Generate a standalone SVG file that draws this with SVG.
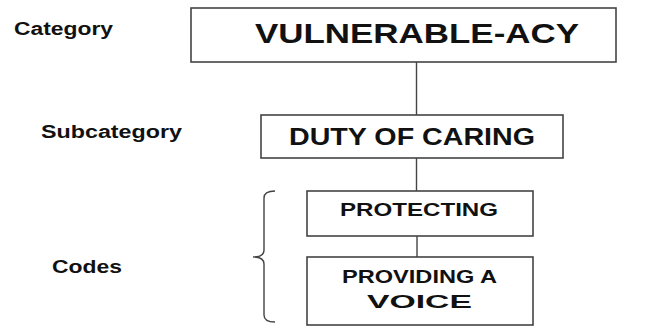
<svg xmlns="http://www.w3.org/2000/svg" width="649" height="327" viewBox="0 0 649 327">
<style>
.box{fill:#fff;stroke:#444;stroke-width:1.6}
.t{font-family:"Liberation Sans",Arial,sans-serif;font-weight:bold;fill:#111}
.c{stroke:#444;stroke-width:1.4;fill:none}
</style>
<rect width="649" height="327" fill="#fff"/>
<g id="labels">
<text class="t" x="14" y="35" font-size="18" textLength="99" lengthAdjust="spacingAndGlyphs">Category</text>
<text class="t" x="41" y="138" font-size="18" textLength="141" lengthAdjust="spacingAndGlyphs">Subcategory</text>
<text class="t" x="52" y="273" font-size="18" textLength="70" lengthAdjust="spacingAndGlyphs">Codes</text>
</g>
<g id="connectors">
<line class="c" x1="416.5" y1="62" x2="416.5" y2="115"/>
<line class="c" x1="416.5" y1="158" x2="416.5" y2="191"/>
<line class="c" x1="417" y1="236" x2="417" y2="257"/>
<path class="c" d="M275,191 Q264,191 264,198 L264,250 Q264,257 253,257 Q264,257 264,264 L264,315 Q264,322 275,322"/>
</g>
<g id="category">
<rect class="box" x="191" y="8" width="425" height="54"/>
<text class="t" x="255" y="43" font-size="28" textLength="324" lengthAdjust="spacingAndGlyphs">VULNERABLE-ACY</text>
</g>
<g id="subcategory">
<rect class="box" x="261" y="115" width="302" height="43"/>
<text class="t" x="289" y="145" font-size="23" textLength="246" lengthAdjust="spacingAndGlyphs">DUTY OF CARING</text>
</g>
<g id="protecting">
<rect class="box" x="307" y="191" width="226" height="45"/>
<text class="t" x="340" y="216" font-size="18" textLength="158" lengthAdjust="spacingAndGlyphs">PROTECTING</text>
</g>
<g id="voice">
<rect class="box" x="307" y="257" width="226" height="68"/>
<text class="t" x="342" y="283" font-size="18" textLength="155" lengthAdjust="spacingAndGlyphs">PROVIDING A</text>
<text class="t" x="367" y="308" font-size="18" textLength="105" lengthAdjust="spacingAndGlyphs">VOICE</text>
</g>
</svg>
